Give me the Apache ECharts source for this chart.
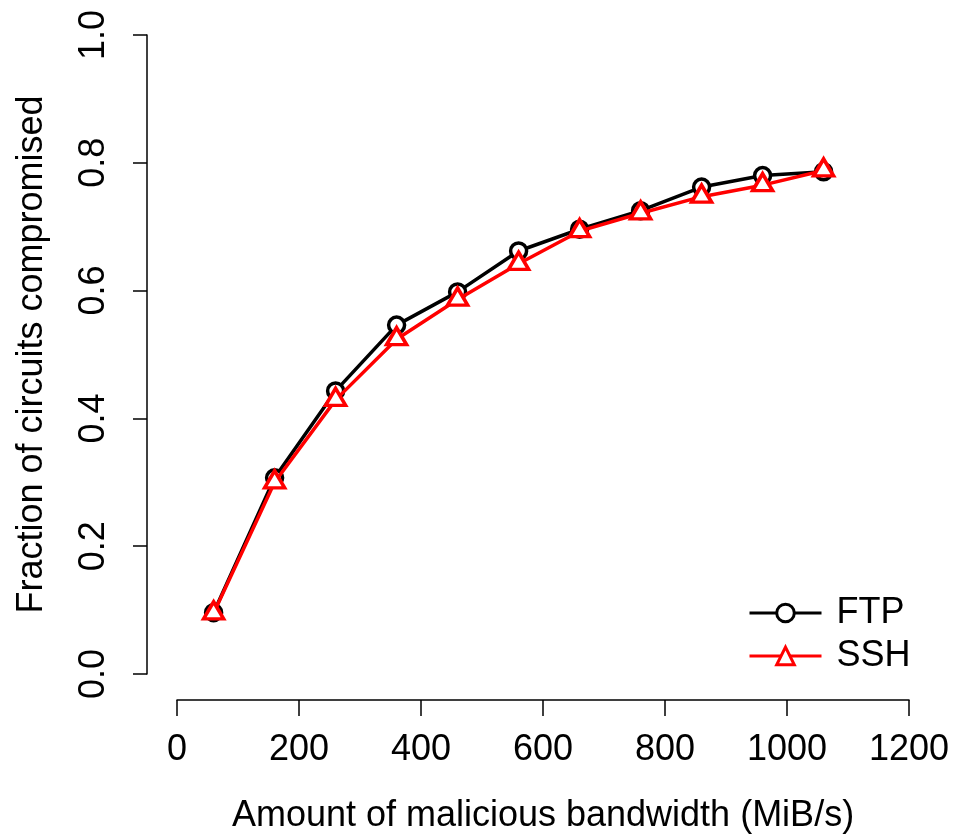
<!DOCTYPE html>
<html>
<head>
<meta charset="utf-8">
<script src="https://cdn.jsdelivr.net/npm/echarts@6/dist/echarts.min.js"></script>
<style>
html,body{margin:0;padding:0;background:#fff;}
#chart{width:954px;height:835px;}
</style>
</head>
<body>
<div id="chart"></div>
<script>
const bandwidth = [60, 160, 260, 360, 460, 560, 660, 760, 860, 960, 1060];
const ftp = [0.096, 0.307, 0.443, 0.546, 0.598, 0.662, 0.696, 0.725, 0.762, 0.780, 0.786];
const ssh = [0.095, 0.300, 0.429, 0.524, 0.586, 0.642, 0.693, 0.721, 0.747, 0.765, 0.788];
const xTicks = [0, 200, 400, 600, 800, 1000, 1200];
const yTicks = ['0.0', '0.2', '0.4', '0.6', '0.8', '1.0'];

const FONT = '"Liberation Sans", Arial, Helvetica, sans-serif';
const chart = echarts.init(document.getElementById('chart'), null, {renderer: 'canvas'});

chart.setOption({
  animation: false,
  backgroundColor: '#ffffff',
  grid: {left: 177, right: 45, top: 35, bottom: 161, containLabel: false, outerBoundsMode: 'none'},
  legend: {
    orient: 'vertical',
    left: 743,
    top: 590,
    itemWidth: 72,
    itemHeight: 22,
    itemGap: 7,
    itemStyle: {borderWidth: 3},
    lineStyle: {width: 3},
    textStyle: {fontFamily: FONT, fontSize: 36, color: '#000', padding: [0, 0, 0, 10]},
    data: ['FTP', 'SSH']
  },
  xAxis: {
    type: 'value',
    min: 0, max: 1200, interval: 200,
    offset: 26,
    name: 'Amount of malicious bandwidth (MiB/s)',
    nameLocation: 'middle',
    nameGap: 98,
    nameTextStyle: {fontFamily: FONT, fontSize: 36, color: '#000'},
    axisLine: {show: true, onZero: false, lineStyle: {color: '#000', width: 1.5}},
    axisTick: {show: true, length: 16, lineStyle: {color: '#000', width: 1.5}},
    axisLabel: {
      margin: 32, fontFamily: FONT, fontSize: 36, color: '#000',
      formatter: function (v) { return xTicks.indexOf(v) >= 0 ? String(v) : ''; }
    },
    splitLine: {show: false}
  },
  yAxis: {
    type: 'value',
    min: 0, max: 1, interval: 0.2,
    offset: 30,
    name: 'Fraction of circuits compromised',
    nameLocation: 'middle',
    nameGap: 97,
    nameTextStyle: {fontFamily: FONT, fontSize: 36, color: '#000'},
    axisLine: {show: true, onZero: false, lineStyle: {color: '#000', width: 1.5}},
    axisTick: {show: true, length: 14, lineStyle: {color: '#000', width: 1.5}},
    axisLabel: {
      rotate: 90, margin: 35, fontFamily: FONT, fontSize: 36, color: '#000',
      formatter: function (v) { return yTicks[Math.round(v / 0.2)]; }
    },
    splitLine: {show: false}
  },
  series: [
    {
      name: 'FTP',
      type: 'line',
      data: bandwidth.map((x, i) => [x, ftp[i]]),
      symbol: 'circle',
      symbolSize: 16,
      lineStyle: {color: '#000000', width: 3.5},
      itemStyle: {color: '#ffffff', borderColor: '#000000', borderWidth: 3.5},
      z: 2
    },
    {
      name: 'SSH',
      type: 'line',
      data: bandwidth.map((x, i) => [x, ssh[i]]),
      symbol: 'triangle',
      symbolSize: [20, 17],
      symbolOffset: [0, -3],
      lineStyle: {color: '#ff0000', width: 3.5},
      itemStyle: {color: '#ffffff', borderColor: '#ff0000', borderWidth: 3.5},
      z: 3
    }
  ]
});
</script>
</body>
</html>
